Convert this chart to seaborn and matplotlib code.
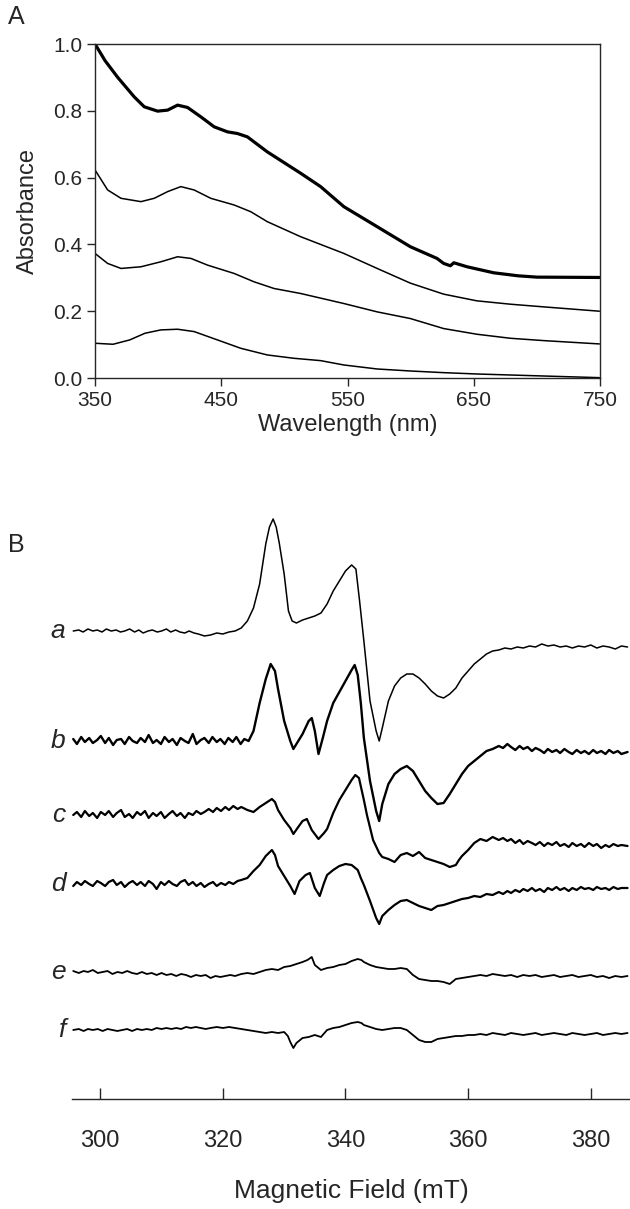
import numpy as np
import pandas as pd
import matplotlib
matplotlib.use("Agg")
import matplotlib.pyplot as plt
import seaborn as sns

sns.set_style("ticks")
plt.rcParams['font.family'] = ['Liberation Sans', 'DejaVu Sans']

# ---- panel A : absorption spectra (wavelength nm, absorbance) ----
spec1 = [(350, 1.00), (358, 0.95), (368, 0.90), (381, 0.842), (389, 0.812), (399.6, 0.799),
         (407.5, 0.802), (415.4, 0.817), (423.3, 0.810), (433.8, 0.782), (444.4, 0.752),
         (454.9, 0.737), (462.8, 0.732), (470.7, 0.722), (486.5, 0.677), (512.9, 0.613),
         (528.7, 0.573), (547.1, 0.513), (573.5, 0.453), (599.8, 0.393), (620.9, 0.358),
         (626.2, 0.343), (631.5, 0.336), (634.2, 0.345), (644.7, 0.333), (665.8, 0.315),
         (685, 0.306), (700, 0.302), (749.5, 0.301)]
spec2 = [(350, 0.623), (360, 0.563), (370.6, 0.538), (386.4, 0.528), (396.9, 0.538),
         (407.5, 0.558), (418, 0.573), (428.5, 0.563), (441.7, 0.538), (460.2, 0.518),
         (473.3, 0.498), (486.5, 0.468), (512.9, 0.423), (547.1, 0.373), (573.5, 0.328),
         (599.8, 0.284), (626.2, 0.251), (652.5, 0.231), (678.9, 0.221), (705.2, 0.213),
         (749.5, 0.200)]
spec3 = [(350, 0.373), (360, 0.343), (370.6, 0.328), (386.4, 0.333), (402.2, 0.348),
         (415.4, 0.363), (426, 0.358), (439.1, 0.338), (460.2, 0.313), (476, 0.288),
         (491.8, 0.268), (512.9, 0.253), (547.1, 0.223), (573.5, 0.198), (599.8, 0.178),
         (626.2, 0.148), (652.5, 0.131), (678.9, 0.119), (705.2, 0.112), (749.5, 0.102)]
spec4 = [(350, 0.104), (364.3, 0.101), (377.5, 0.114), (389.6, 0.134), (402.2, 0.144),
         (415.4, 0.146), (428.5, 0.139), (447, 0.114), (465.4, 0.089), (486.5, 0.069),
         (507.6, 0.059), (528.7, 0.052), (547.1, 0.039), (573.5, 0.027), (599.8, 0.021),
         (626.2, 0.016), (652.5, 0.012), (678.9, 0.009), (705.2, 0.006), (749.5, 0.001)]
spectra = [spec1, spec2, spec3, spec4]
spec_lw = [2.3, 1.1, 1.1, 1.1]

# ---- panel B : EPR traces (field mT, deflection in px, up positive) ----
trace_a = [(295.6,0),(296.5,1),(297.2,-1),(298,2),(298.8,0),(299.5,1),(300.3,-1),(301,2),(301.8,0),
           (302.6,1),(303.3,-1),(304,0),(304.8,2),(305.6,-1),(306.3,1),(307,-2),(307.8,0),(308.5,1),
           (309.3,-1),(310,0),(310.8,2),(311.5,-1),(312.3,1),(313,-1),(313.8,-2),(314.5,0),(315.3,-2),
           (316,-3),(317,-5),(318,-4),(319,-2),(320,-3),(321,-1),(322,0),(323,3),(324,10),(325,23),
           (326,47),(327,87),(327.6,104),(328.2,112),(328.7,104),(329.2,88),(330,57),(330.7,20),
           (331.3,10),(332,8),(333,11),(334,13),(335,15),(336,18),(337,27),(338,40),(339,50),
           (340,60),(341,66),(341.7,62),(342.3,30),(343,-10),(344,-70),(345,-100),(345.5,-110),
           (346,-97),(347,-70),(348,-55),(349,-47),(350,-43),(351,-43),(352,-47),(353,-53),
           (354,-60),(355,-65),(356,-67),(357,-63),(358,-57),(359,-47),(360,-40),(361,-33),
           (362,-28),(363,-23),(364,-20),(365,-19),(366,-17),(367,-18),(368,-16),(369,-17),
           (370,-15),(371,-16),(372,-13),(373,-15),(374,-14),(375,-16),(376,-15),(377,-17),
           (378,-15),(379,-16),(380,-14),(381,-17),(382,-15),(383,-16),(384,-18),(385,-15),(386,-16)]
trace_b = [(295.6,2),(296.2,-3),(296.9,4),(297.5,-1),(298.2,3),(298.8,-2),(299.5,1),(300.1,5),
           (300.8,-2),(301.4,3),(302.1,-4),(302.7,1),(303.4,2),(304,-3),(304.7,4),(305.3,0),(306,-2),
           (306.6,3),(307.3,-1),(307.9,6),(308.6,-2),(309.2,1),(309.9,-3),(310.5,4),(311.2,-1),
           (311.8,2),(312.5,-4),(313.1,3),(313.8,0),(314.4,-2),(315.1,7),(315.7,-3),(316.4,1),
           (317,3),(317.7,-2),(318.3,4),(319,-1),(319.6,2),(320.3,-3),(320.9,3),(321.6,-1),(322.2,4),
           (322.9,-3),(323.5,2),(324.2,0),(325,10),(326,38),(327,62),(327.8,77),(328.5,70),(329,52),
           (330,20),(331,0),(331.5,-8),(332,-3),(333,7),(334,20),(334.5,23),(335,10),(335.6,-13),
           (336.3,3),(337,20),(338,38),(339,49),(340,60),(341,71),(341.5,76),(342,66),(342.5,38),
           (343,3),(344,-40),(345,-70),(345.5,-80),(346,-63),(347,-43),(348,-33),(349,-28),(350,-25),
           (351,-30),(352,-40),(353,-50),(354,-57),(355,-63),(356,-62),(357,-53),(358,-43),(359,-33),
           (360,-25),(361,-20),(362,-15),(363,-10),(364,-8),(365,-5),(365.7,-7),(366.4,-3),(367,-6),
           (367.7,-9),(368.4,-5),(369,-8),(369.7,-6),(370.4,-10),(371,-7),(371.7,-9),(372.4,-12),
           (373,-8),(373.7,-11),(374.4,-9),(375,-12),(375.7,-8),(376.4,-11),(377,-13),(377.7,-9),
           (378.4,-12),(379,-10),(379.7,-13),(380.4,-9),(381,-12),(381.7,-10),(382.4,-13),(383,-9),
           (383.7,-12),(384.4,-10),(385,-13),(386,-11)]
trace_c = [(295.6,0),(296.2,3),(296.9,-2),(297.5,4),(298.2,-1),(298.8,2),(299.5,-3),(300.1,3),
           (300.8,0),(301.4,4),(302.1,-2),(302.7,2),(303.4,5),(304,-2),(304.7,1),(305.3,-3),(306,3),
           (306.6,0),(307.3,4),(307.9,-3),(308.6,2),(309.2,-1),(309.9,3),(310.5,-3),(311.2,1),
           (311.8,4),(312.5,-1),(313.1,2),(313.8,-3),(314.4,2),(315.1,0),(315.7,4),(316.4,1),(317,3),
           (317.7,6),(318.4,3),(319,7),(319.7,4),(320.4,8),(321,5),(321.7,9),(322.4,6),(323,8),
           (324,5),(325,3),(326,8),(327,12),(328,16),(328.5,13),(329,5),(330,-5),(331,-13),(331.5,-19),
           (332.3,-12),(333,-6),(333.7,-4),(334.5,-15),(335.6,-24),(336.5,-18),(337,-14),(338,2),
           (339,15),(340,25),(341,35),(341.6,40),(342.2,37),(343,15),(343.5,0),(344.5,-25),
           (345.5,-38),(346,-42),(347,-44),(348,-47),(349,-40),(350,-38),(351,-41),(352,-37),
           (353,-43),(354,-45),(355,-47),(356,-49),(357,-52),(358,-50),(358.5,-45),(359,-41),
           (360,-35),(361,-28),(362,-24),(363,-26),(364,-22),(365,-25),(365.7,-23),(366.4,-26),
           (367,-24),(367.7,-28),(368.4,-25),(369,-29),(369.7,-26),(370.4,-28),(371,-30),(371.7,-27),
           (372.4,-31),(373,-28),(373.7,-30),(374.4,-27),(375,-31),(375.7,-29),(376.4,-32),(377,-28),
           (377.7,-31),(378.4,-29),(379,-32),(379.7,-28),(380.4,-31),(381,-29),(381.7,-33),(382.4,-30),
           (383,-32),(383.7,-29),(384.4,-31),(385,-30),(386,-31)]
trace_d = [(295.6,-2),(296.2,2),(296.9,-1),(297.5,3),(298.2,0),(298.8,-2),(299.5,3),(300.1,1),
           (300.8,-2),(301.4,2),(302.1,4),(302.7,-1),(303.4,2),(304,-3),(304.7,1),(305.3,3),
           (306,-1),(306.6,2),(307.3,-2),(307.9,3),(308.6,0),(309.2,-5),(309.9,2),(310.5,-1),
           (311.2,3),(311.8,0),(312.5,-2),(313.1,2),(313.8,4),(314.4,-1),(315.1,2),(315.7,-2),
           (316.4,1),(317,-3),(317.7,0),(318.4,2),(319,-2),(319.7,1),(320.4,-1),(321,2),(321.7,0),
           (322.4,3),(323,4),(324,6),(325,13),(326,19),(327,28),(328,34),(328.5,29),(329,18),(330,8),
           (331,-2),(331.7,-10),(332.5,3),(333.5,9),(334.2,11),(335,-4),(335.8,-12),(336.5,1),(337,9),
           (338,14),(339,18),(340,20),(341,19),(342,14),(342.5,6),(343,-1),(344,-17),(345,-34),
           (345.5,-40),(346,-32),(347,-26),(348,-21),(349,-17),(350,-16),(351,-19),(352,-22),
           (353,-24),(354,-26),(355,-22),(356,-21),(357,-19),(358,-17),(359,-15),(360,-14),(361,-12),
           (362,-13),(363,-10),(364,-11),(365,-8),(365.7,-10),(366.4,-7),(367,-9),(367.7,-6),
           (368.4,-8),(369,-5),(369.7,-7),(370.4,-4),(371,-7),(371.7,-5),(372.4,-8),(373,-4),
           (373.7,-6),(374.4,-3),(375,-6),(375.7,-4),(376.4,-7),(377,-4),(377.7,-6),(378.4,-3),
           (379,-5),(379.7,-4),(380.4,-6),(381,-3),(381.7,-5),(382.4,-4),(383,-6),(383.7,-3),
           (384.4,-5),(385,-4),(386,-4)]
trace_e = [(295.6,1),(296.5,-1),(297.3,1),(298,0),(298.8,2),(299.6,-1),(300.4,0),(301.2,1),(302,-2),
           (302.8,0),(303.6,-1),(304.4,1),(305.2,-1),(306,-2),(306.8,0),(307.6,-2),(308.4,-1),
           (309.2,-3),(310,-1),(310.8,-3),(311.6,-2),(312.4,-4),(313.2,-2),(314,-3),(314.8,-5),
           (315.6,-3),(316.4,-4),(317.2,-3),(318,-6),(318.8,-4),(319.6,-5),(320.4,-4),(321.2,-3),
           (322,-4),(323,-2),(324,-1),(325,-2),(326,0),(327,2),(328,3),(329,2),(330,5),(331,6),
           (332,8),(333,10),(333.8,12),(334.5,15),(335,7),(336,2),(337,4),(338,5),(339,7),(340,8),
           (341,11),(342,13),(342.6,12),(343,10),(344,7),(345,5),(346,4),(347,3),(348,3),(349,4),
           (350,3),(351,-3),(352,-7),(353,-8),(354,-9),(355,-9),(356,-10),(357,-12),(358,-7),(359,-6),
           (360,-5),(361,-4),(362,-3),(363,-4),(364,-2),(365,-3),(366,-4),(367,-3),(368,-5),(369,-3),
           (370,-4),(371,-3),(372,-5),(373,-4),(374,-3),(375,-5),(376,-4),(377,-3),(378,-5),(379,-4),
           (380,-3),(381,-5),(382,-4),(383,-6),(384,-4),(385,-5),(386,-4)]
trace_f = [(295.6,0),(296.5,1),(297.3,-1),(298,1),(298.8,0),(299.6,1),(300.4,-1),(301.2,1),(302,0),
           (302.8,-1),(303.6,0),(304.4,1),(305.2,-1),(306,1),(306.8,0),(307.6,1),(308.4,0),(309.2,2),
           (310,1),(310.8,2),(311.6,1),(312.4,2),(313.2,1),(314,3),(314.8,2),(315.6,3),(316.4,2),
           (317.2,1),(318,2),(319,3),(320,2),(321,3),(322,2),(323,1),(324,0),(325,-1),(326,-2),
           (327,-3),(328,-2),(329,-3),(330,-2),(330.6,-6),(331,-12),(331.5,-18),(332,-13),(333,-8),
           (334,-7),(335,-5),(336,-7),(337,0),(338,2),(339,3),(340,5),(341,7),(342,8),(342.6,7),
           (343,5),(344,3),(345,1),(346,0),(347,1),(348,2),(349,2),(350,0),(351,-5),(352,-10),
           (353,-12),(354,-12),(355,-9),(356,-8),(357,-7),(358,-6),(359,-6),(360,-5),(361,-5),
           (362,-4),(363,-5),(364,-3),(365,-4),(366,-5),(367,-3),(368,-4),(369,-5),(370,-4),(371,-3),
           (372,-5),(373,-4),(374,-3),(375,-4),(376,-5),(377,-3),(378,-4),(379,-5),(380,-4),(381,-3),
           (382,-5),(383,-4),(384,-3),(385,-4),(386,-3)]
traces = [trace_a, trace_b, trace_c, trace_d, trace_e, trace_f]
trace_names = ['a', 'b', 'c', 'd', 'e', 'f']
trace_base = [631, 741, 815, 884, 972, 1030]   # baseline level (px from top)
trace_lw = [1.1, 1.7, 1.6, 1.6, 1.3, 1.3]

wl_ticks = [350, 450, 550, 650, 750]
abs_ticks = [0.0, 0.2, 0.4, 0.6, 0.8, 1.0]
field_ticks = [300, 320, 340, 360, 380]

fig = plt.figure(figsize=(6.3, 12.09), dpi=100)

# panel A
axA = fig.add_axes([95/630, 1 - 378/1209, 505/630, 334/1209])
for spec, lw in zip(spectra, spec_lw):
    df = pd.DataFrame(spec, columns=['wl', 'abs'])
    sns.lineplot(data=df, x='wl', y='abs', ax=axA, color='black', lw=lw,
                 estimator=None, sort=False)
axA.set_xlim(350, 750)
axA.set_ylim(0, 1.0)
axA.set_xticks(wl_ticks)
axA.set_yticks(abs_ticks)
axA.set_yticklabels([f'{v:.1f}' for v in abs_ticks])
axA.tick_params(direction='out', length=6, width=1, labelsize=15, pad=3)
for s in axA.spines.values():
    s.set_linewidth(1.0)
axA.set_xlabel('Wavelength (nm)', fontsize=17, labelpad=3)
axA.set_ylabel('Absorbance', fontsize=17, labelpad=10)
fig.text(16/630, 1 - 17/1209, 'A', fontsize=18, ha='center', va='center')

# panel B
axB = fig.add_axes([72/630, 1 - 1099/1209, 558/630, (1099 - 500)/1209])
for tr, base, lw, name in zip(traces, trace_base, trace_lw, trace_names):
    df = pd.DataFrame(tr, columns=['field', 'dy'])
    df['y'] = base - df['dy']
    sns.lineplot(data=df, x='field', y='y', ax=axB, color='black', lw=lw,
                 estimator=None, sort=False)
    axB.text(294.3, base, name, fontsize=19, style='italic', ha='right', va='center')
axB.set_xlim(295.4, 386.4)
axB.set_ylim(1099, 500)
axB.set_xticks(field_ticks)
axB.set_yticks([])
axB.set_ylabel('')
for side in ['top', 'right', 'left']:
    axB.spines[side].set_visible(False)
axB.spines['bottom'].set_linewidth(1.0)
axB.tick_params(axis='x', direction='in', length=8, width=1, labelsize=17, pad=22)
axB.set_xlabel('Magnetic Field (mT)', fontsize=19, labelpad=20)
fig.text(16/630, 1 - 545/1209, 'B', fontsize=18, ha='center', va='center')

fig.savefig('out.png', dpi=100)
